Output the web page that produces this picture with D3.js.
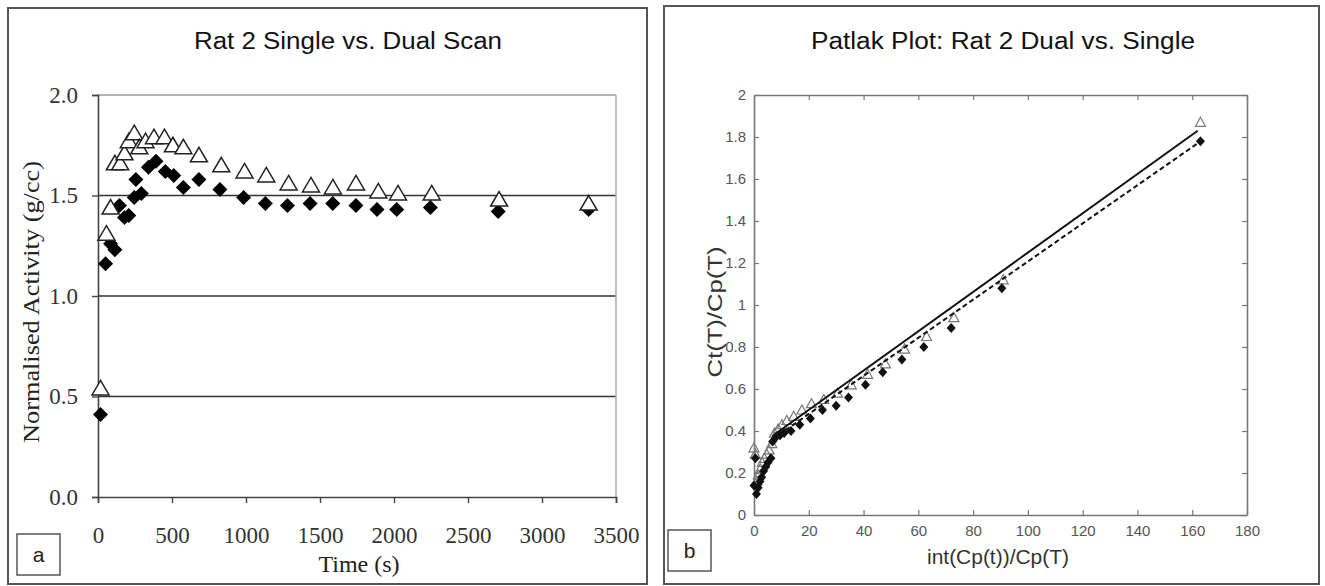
<!DOCTYPE html>
<html lang="en">
    <head>
        <meta charset="utf-8">
        <title>Rat 2 Single vs. Dual Scan / Patlak Plot</title>
        <script src="https://cdn.jsdelivr.net/npm/d3@7"></script>
        <style>
            body { margin: 0; background: #fff; }
        </style>
    </head>
    <body>
        <script type="text/javascript">

            // page size
            var w = 1325;
            var h = 586;

            // ---- panel a: time activity curves ----
            var timeTicks = [0, 500, 1000, 1500, 2000, 2500, 3000, 3500];
            var activityTicks = [0.0, 0.5, 1.0, 1.5, 2.0];

            // open triangles
            var dualTime = [17, 57, 85, 114, 150, 179, 208, 245, 279, 321, 378, 449, 506, 577, 682, 833, 990, 1137, 1288, 1439, 1587, 1743, 1894, 2027, 2255, 2710, 3315];
            var dualActivity = [0.54, 1.31, 1.44, 1.66, 1.66, 1.71, 1.77, 1.81, 1.74, 1.77, 1.79, 1.79, 1.75, 1.74, 1.70, 1.65, 1.62, 1.60, 1.56, 1.55, 1.54, 1.56, 1.52, 1.51, 1.51, 1.48, 1.46];

            // filled diamonds
            var singleTime = [17, 51, 85, 114, 145, 179, 208, 245, 256, 293, 341, 392, 455, 512, 577, 682, 824, 984, 1131, 1280, 1433, 1586, 1743, 1885, 2018, 2246, 2704, 3315];
            var singleActivity = [0.41, 1.16, 1.26, 1.23, 1.45, 1.39, 1.40, 1.49, 1.58, 1.51, 1.64, 1.67, 1.62, 1.60, 1.54, 1.58, 1.53, 1.49, 1.46, 1.45, 1.46, 1.46, 1.45, 1.43, 1.43, 1.44, 1.42, 1.43];

            // ---- panel b: patlak plot ----
            var patlakXTicks = [0, 20, 40, 60, 80, 100, 120, 140, 160, 180];
            var patlakYTicks = [0, 0.2, 0.4, 0.6, 0.8, 1, 1.2, 1.4, 1.6, 1.8, 2];

            var dualPatlakX = [0, 0.5, 1.0, 1.6, 2.3, 3.0, 3.8, 4.6, 5.5, 6.5, 7.5, 8.8, 10.2, 12, 14.5, 17.5, 21, 25.5, 30.5, 35.5, 41.5, 48, 55, 63, 73, 91, 163];
            var dualPatlakY = [0.32, 0.29, 0.16, 0.19, 0.22, 0.25, 0.27, 0.29, 0.31, 0.34, 0.39, 0.41, 0.43, 0.45, 0.47, 0.50, 0.53, 0.55, 0.58, 0.62, 0.67, 0.72, 0.79, 0.85, 0.94, 1.12, 1.87];

            var singlePatlakX = [0, 0.5, 0.9, 1.5, 2.2, 2.8, 3.5, 4.3, 5.1, 6.2, 6.8, 8.0, 9.5, 11, 13.5, 16.7, 20.6, 25, 30, 34.5, 40.7, 47, 54, 62, 72, 90.5, 163];
            var singlePatlakY = [0.14, 0.27, 0.10, 0.13, 0.16, 0.18, 0.21, 0.23, 0.25, 0.27, 0.35, 0.37, 0.38, 0.39, 0.40, 0.43, 0.46, 0.50, 0.52, 0.56, 0.62, 0.68, 0.74, 0.80, 0.89, 1.08, 1.78];

            // fitted lines (end points)
            var dualFitX = [6.7, 162];
            var dualFitY = [0.376, 1.83];
            var singleFitX = [6.7, 162];
            var singleFitY = [0.36, 1.77];

            var zip = function (xs, ys) {
                return xs.map(function (x, i) { return [x, ys[i]]; });
            };

            var triPath = "M0,-8L8.5,6.5L-8.5,6.5Z";
            var diaPath = "M0,-7.5L7.5,0L0,7.5L-7.5,0Z";
            var smallTri = "M0,-5L5,4L-5,4Z";
            var smallDia = "M0,-5L4.5,0L0,5L-4.5,0Z";

            var sans = "Arial, 'Liberation Sans', sans-serif";
            var serif = "'Times New Roman', 'Liberation Serif', serif";

            //Create SVG element
            var svg = d3.select("body")
                .append("svg")
                .attr("width", w)
                .attr("height", h);

            svg.append("rect")
                .attr("width", w).attr("height", h)
                .attr("fill", "#fff");

            // ================= panel a =================
            var ga = svg.append("g");

            ga.append("rect")
                .attr("x", 8).attr("y", 8)
                .attr("width", 639).attr("height", 576)
                .attr("fill", "none")
                .attr("stroke", "#555")
                .attr("stroke-width", 2);

            var xa = d3.scaleLinear().domain([0, 3500]).range([98, 616]);
            var ya = d3.scaleLinear().domain([0, 2]).range([497, 95]);

            // gridlines
            ga.selectAll("line.grid")
                .data(activityTicks.filter(function (d) { return d > 0; }))
                .enter()
                .append("line")
                .attr("class", "grid")
                .attr("x1", xa(0)).attr("x2", xa(3500))
                .attr("y1", function (d) { return ya(d); })
                .attr("y2", function (d) { return ya(d); })
                .attr("stroke", function (d) { return d === 2 ? "#999" : "#333"; })
                .attr("stroke-width", 1.6);

            // right edge of plot area
            ga.append("line")
                .attr("x1", xa(3500)).attr("x2", xa(3500))
                .attr("y1", ya(0)).attr("y2", ya(2))
                .attr("stroke", "#aaa")
                .attr("stroke-width", 1.5);

            var xAxisA = ga.append("g")
                .attr("transform", "translate(0," + ya(0) + ")")
                .call(d3.axisBottom(xa).tickValues(timeTicks).tickSize(6).tickPadding(24).tickFormat(d3.format("d")));
            var yAxisA = ga.append("g")
                .attr("transform", "translate(" + xa(0) + ",0)")
                .call(d3.axisLeft(ya).tickValues(activityTicks).tickSize(6).tickPadding(14).tickFormat(d3.format(".1f")));

            [xAxisA, yAxisA].forEach(function (ax) {
                ax.attr("font-size", null);
                ax.select(".domain").attr("stroke", "#444").attr("stroke-width", 1.6);
                ax.selectAll(".tick line").attr("stroke", "#444").attr("stroke-width", 1.4);
                ax.selectAll(".tick text")
                    .attr("fill", "#333")
                    .style("font-family", serif)
                    .style("font-size", "23px");
            });

            ga.append("text")
                .attr("x", 348).attr("y", 49)
                .attr("text-anchor", "middle")
                .style("font-family", sans)
                .style("font-size", "23px")
                .attr("fill", "#111")
                .attr("textLength", 308)
                .attr("lengthAdjust", "spacingAndGlyphs")
                .text("Rat 2 Single vs. Dual Scan");

            ga.append("text")
                .attr("x", 359).attr("y", 572)
                .attr("text-anchor", "middle")
                .style("font-family", serif)
                .style("font-size", "24px")
                .attr("fill", "#222")
                .text("Time (s)");

            ga.append("text")
                .attr("transform", "translate(39,302) rotate(-90)")
                .attr("text-anchor", "middle")
                .style("font-family", serif)
                .style("font-size", "23px")
                .attr("fill", "#222")
                .attr("textLength", 282)
                .attr("lengthAdjust", "spacingAndGlyphs")
                .text("Normalised Activity (g/cc)");

            ga.append("rect")
                .attr("x", 17).attr("y", 534)
                .attr("width", 43).attr("height", 41)
                .attr("fill", "#fff")
                .attr("stroke", "#555")
                .attr("stroke-width", 1.5);
            ga.append("text")
                .attr("x", 38.5).attr("y", 562)
                .attr("text-anchor", "middle")
                .style("font-family", sans)
                .style("font-size", "21px")
                .attr("fill", "#222")
                .text("a");

            // diamonds first, triangles on top
            ga.selectAll("path.single")
                .data(zip(singleTime, singleActivity))
                .enter()
                .append("path")
                .attr("class", "single")
                .attr("d", diaPath)
                .attr("fill", "#000")
                .attr("transform", function (d) { return "translate(" + xa(d[0]) + "," + ya(d[1]) + ")"; });

            ga.selectAll("path.dual")
                .data(zip(dualTime, dualActivity))
                .enter()
                .append("path")
                .attr("class", "dual")
                .attr("d", triPath)
                .attr("fill", "#fff")
                .attr("stroke", "#222")
                .attr("stroke-width", 1.5)
                .attr("transform", function (d) { return "translate(" + xa(d[0]) + "," + ya(d[1]) + ")"; });

            // ================= panel b =================
            var gb = svg.append("g");

            gb.append("rect")
                .attr("x", 664).attr("y", 6)
                .attr("width", 655).attr("height", 578)
                .attr("fill", "none")
                .attr("stroke", "#555")
                .attr("stroke-width", 2);

            var xb = d3.scaleLinear().domain([0, 180]).range([754, 1247]);
            var yb = d3.scaleLinear().domain([0, 2]).range([515, 95]);

            // inward ticks on all four sides (matlab style)
            var bottomB = gb.append("g")
                .attr("transform", "translate(0," + yb(0) + ")")
                .call(d3.axisBottom(xb).tickValues(patlakXTicks).tickSizeInner(-5).tickSizeOuter(0).tickPadding(10));
            var topB = gb.append("g")
                .attr("transform", "translate(0," + yb(2) + ")")
                .call(d3.axisTop(xb).tickValues(patlakXTicks).tickSizeInner(-5).tickSizeOuter(0).tickFormat(""));
            var leftB = gb.append("g")
                .attr("transform", "translate(" + xb(0) + ",0)")
                .call(d3.axisLeft(yb).tickValues(patlakYTicks).tickSizeInner(-5).tickSizeOuter(0).tickPadding(8).tickFormat(d3.format("")));
            var rightB = gb.append("g")
                .attr("transform", "translate(" + xb(180) + ",0)")
                .call(d3.axisRight(yb).tickValues(patlakYTicks).tickSizeInner(-5).tickSizeOuter(0).tickFormat(""));

            [bottomB, topB, leftB, rightB].forEach(function (ax) {
                ax.select(".domain").attr("stroke", "#777").attr("stroke-width", 1.6);
                ax.selectAll(".tick line").attr("stroke", "#777").attr("stroke-width", 1.2);
                ax.selectAll(".tick text")
                    .attr("fill", "#555")
                    .style("font-family", sans)
                    .style("font-size", "15px");
            });

            gb.append("text")
                .attr("x", 1003).attr("y", 49)
                .attr("text-anchor", "middle")
                .style("font-family", sans)
                .style("font-size", "23px")
                .attr("fill", "#111")
                .attr("textLength", 384)
                .attr("lengthAdjust", "spacingAndGlyphs")
                .text("Patlak Plot: Rat 2 Dual vs. Single");

            gb.append("text")
                .attr("x", 998).attr("y", 564)
                .attr("text-anchor", "middle")
                .style("font-family", sans)
                .style("font-size", "20px")
                .attr("fill", "#333")
                .attr("textLength", 142)
                .attr("lengthAdjust", "spacingAndGlyphs")
                .text("int(Cp(t))/Cp(T)");

            gb.append("text")
                .attr("transform", "translate(722,312) rotate(-90)")
                .attr("text-anchor", "middle")
                .style("font-family", sans)
                .style("font-size", "20px")
                .attr("fill", "#333")
                .attr("textLength", 131)
                .attr("lengthAdjust", "spacingAndGlyphs")
                .text("Ct(T)/Cp(T)");

            gb.append("rect")
                .attr("x", 668).attr("y", 530)
                .attr("width", 43).attr("height", 41)
                .attr("fill", "#fff")
                .attr("stroke", "#555")
                .attr("stroke-width", 1.5);
            gb.append("text")
                .attr("x", 689.5).attr("y", 558)
                .attr("text-anchor", "middle")
                .style("font-family", sans)
                .style("font-size", "21px")
                .attr("fill", "#222")
                .text("b");

            gb.selectAll("path.dualb")
                .data(zip(dualPatlakX, dualPatlakY))
                .enter()
                .append("path")
                .attr("class", "dualb")
                .attr("d", smallTri)
                .attr("fill", "none")
                .attr("stroke", "#777")
                .attr("stroke-width", 1.2)
                .attr("transform", function (d) { return "translate(" + xb(d[0]) + "," + yb(d[1]) + ")"; });

            gb.selectAll("path.singleb")
                .data(zip(singlePatlakX, singlePatlakY))
                .enter()
                .append("path")
                .attr("class", "singleb")
                .attr("d", smallDia)
                .attr("fill", "#111")
                .attr("transform", function (d) { return "translate(" + xb(d[0]) + "," + yb(d[1]) + ")"; });

            var line = d3.line()
                .x(function (d) { return xb(d[0]); })
                .y(function (d) { return yb(d[1]); });

            gb.append("path")
                .datum(zip(dualFitX, dualFitY))
                .attr("d", line)
                .attr("fill", "none")
                .attr("stroke", "#111")
                .attr("stroke-width", 2);

            gb.append("path")
                .datum(zip(singleFitX, singleFitY))
                .attr("d", line)
                .attr("fill", "none")
                .attr("stroke", "#111")
                .attr("stroke-width", 2)
                .attr("stroke-dasharray", "5,3");

        </script>
    </body>
</html>
